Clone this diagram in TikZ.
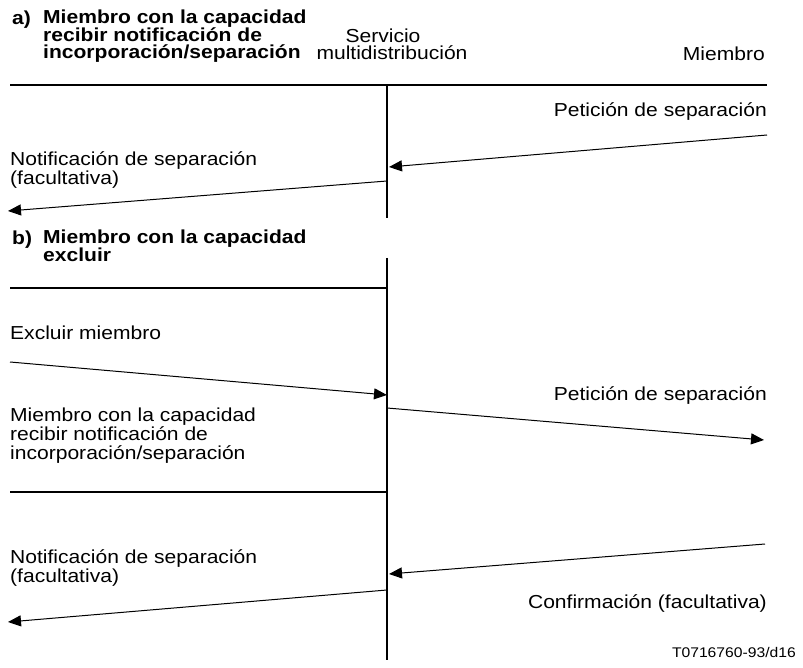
\documentclass[tikz,border=0pt]{standalone}
\usepackage{fontspec}
\setmainfont{Liberation Sans}[FakeStretch=1.12]
\usetikzlibrary{arrows.meta}
\begin{document}
\begin{tikzpicture}[x=1pt,y=-1pt,
  txt/.style={inner sep=0pt,font=\fontsize{18.8}{19}\selectfont},
  hdr/.style={inner sep=0pt,font=\fontsize{18.8}{17}\selectfont\bfseries},
  rule/.style={line width=1.4pt},
  msg/.style={line width=1pt,-{Triangle[length=13pt,width=11pt]}}]
\useasboundingbox (0,0) rectangle (803,668);
% header a)
\node[hdr,anchor=base west] (alab) at (12,25) {a)};
\node[hdr,anchor=base west,align=left] (ahdr) at (43,59) {Miembro con la capacidad\\recibir notificación de\\incorporación/separación};
\node[txt,anchor=base] (serv1) at (383,43) {Servicio};
\node[txt,anchor=base] (serv2) at (392,60) {multidistribución};
\node[txt,anchor=base east] (miem) at (765,61) {Miembro};
% part a
\coordinate (h1l) at (10,85);
\coordinate (h1r) at (767,85);
\draw[rule] (h1l) -- (h1r);
\coordinate (v1t) at (387,85);
\coordinate (v1b) at (387,218);
\draw[rule] (v1t) -- (v1b);
\node[txt,anchor=base east] (pet1) at (767,117) {Petición de separación};
\coordinate (a1s) at (767,135);
\coordinate (a1e) at (389,167);
\draw[msg] (a1s) -- (a1e);
\node[txt,anchor=base west,align=left] (not1) at (10,185) {Notificación de separación\\(facultativa)};
\coordinate (a2s) at (387,181);
\coordinate (a2e) at (8,211);
\draw[msg] (a2s) -- (a2e);
% header b)
\node[hdr,anchor=base west] (blab) at (12,245) {b)};
\node[hdr,anchor=base west,align=left] (bhdr) at (43,262) {Miembro con la capacidad\\excluir};
% part b
\coordinate (v2t) at (387,258);
\coordinate (v2b) at (387,660);
\draw[rule] (v2t) -- (v2b);
\coordinate (h2l) at (10,288);
\coordinate (h2r) at (387,288);
\draw[rule] (h2l) -- (h2r);
\node[txt,anchor=base west] (excl) at (10,339) {Excluir miembro};
\coordinate (a3s) at (10,362);
\coordinate (a3e) at (387,395);
\draw[msg] (a3s) -- (a3e);
\node[txt,anchor=base east] (pet2) at (767,400) {Petición de separación};
\coordinate (a4s) at (387,408);
\coordinate (a4e) at (764,440);
\draw[msg] (a4s) -- (a4e);
\node[txt,anchor=base west,align=left] (miem2) at (10,459) {Miembro con la capacidad\\recibir notificación de\\incorporación/separación};
\coordinate (h3l) at (10,492);
\coordinate (h3r) at (387,492);
\draw[rule] (h3l) -- (h3r);
\node[txt,anchor=base west,align=left] (not2) at (10,582) {Notificación de separación\\(facultativa)};
\coordinate (a5s) at (765,544);
\coordinate (a5e) at (389,574);
\draw[msg] (a5s) -- (a5e);
\node[txt,anchor=base east] (conf) at (767,608) {Confirmación (facultativa)};
\coordinate (a6s) at (387,590);
\coordinate (a6e) at (8,622);
\draw[msg] (a6s) -- (a6e);
\node[inner sep=0pt,anchor=base east,font=\fontsize{14}{16}\selectfont] (code) at (796,657) {T0716760-93/d16};
\end{tikzpicture}
\end{document}
